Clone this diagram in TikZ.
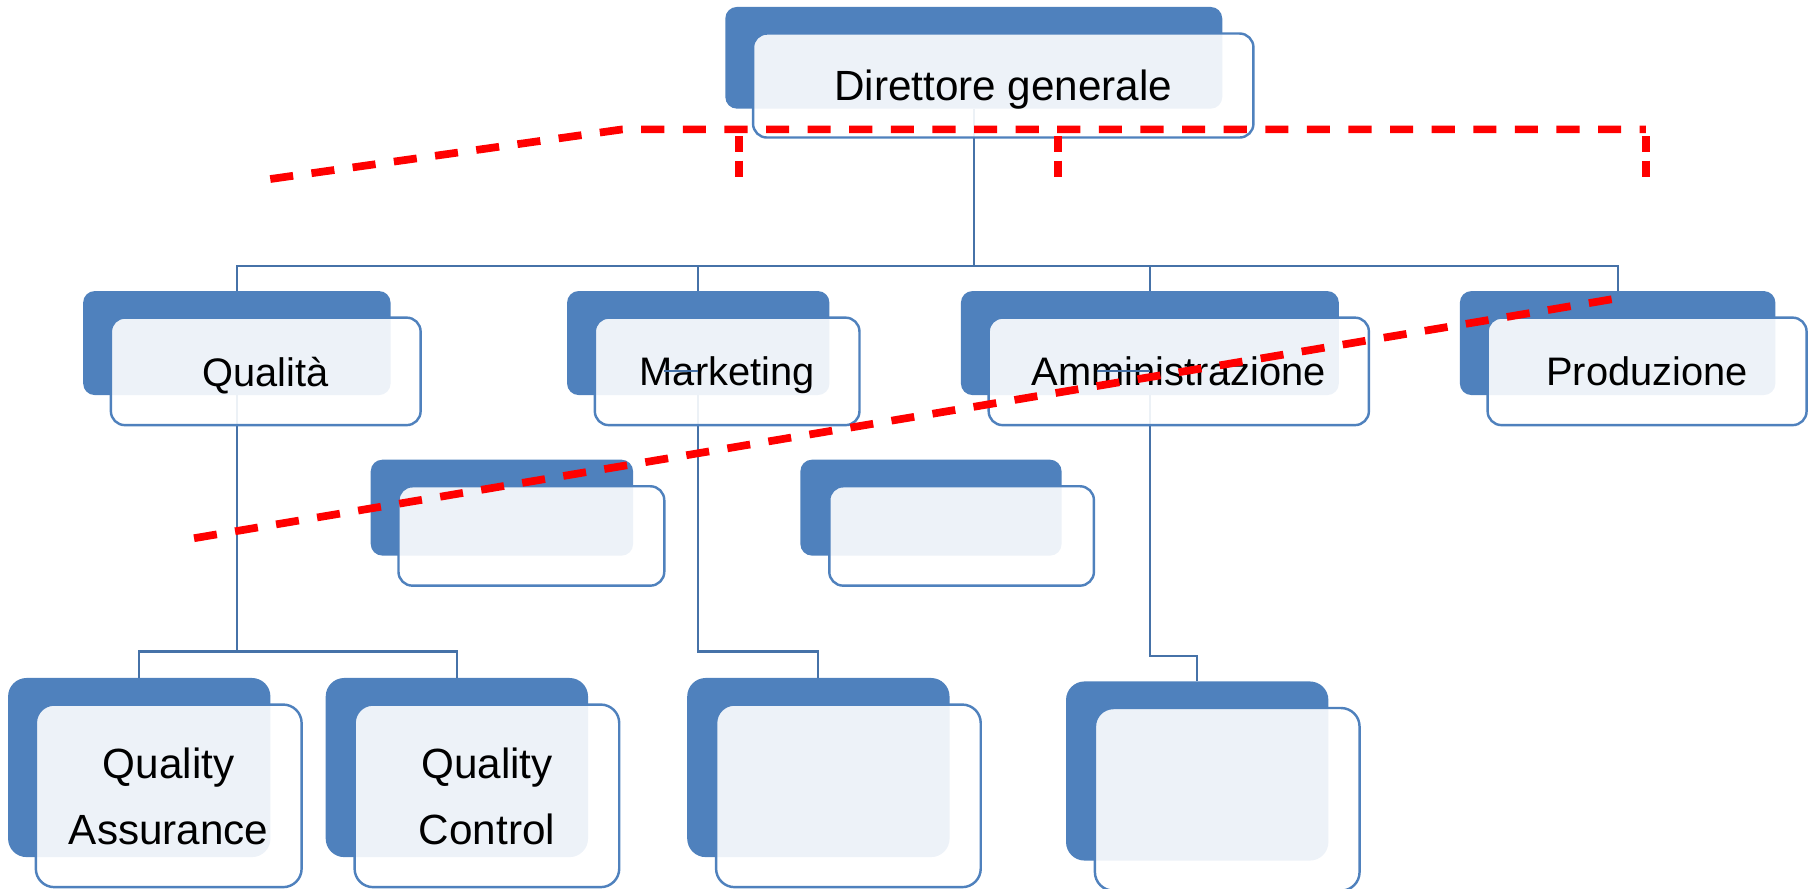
\documentclass[tikz,border=0pt]{standalone}
\usepackage{fontspec}
\setmainfont{Liberation Sans}
\usetikzlibrary{positioning}
\definecolor{orgblue}{HTML}{4F81BD}
\definecolor{linkblue}{HTML}{4672A8}
\tikzset{
  backbox/.style={fill=orgblue, rounded corners=0.1cm, inner sep=0pt, outer sep=0pt, anchor=north west},
  frontbox/.style={draw=orgblue, line width=0.6pt, fill=white, fill opacity=0.9, text opacity=1,
    rounded corners=0.12cm, inner sep=0pt, outer sep=0pt, align=center, text depth=0pt,
    font=\fontsize{10.4pt}{16.3pt}\selectfont},
  midlevel/.style={font=\fontsize{9.8pt}{12pt}\selectfont},
  tall/.style={rounded corners=0.16cm},
  link/.style={draw=linkblue, line width=0.55pt},
  redcut/.style={draw=red, line width=1.9pt, dash pattern=on 0.2cm off 0.16cm},
  reddrop/.style={draw=red, line width=1.9pt, dash pattern=on 0.14cm off 0.07cm},
}
\begin{document}
\begin{tikzpicture}[x=0.01cm, y=-0.01cm]
	\useasboundingbox (0,0) rectangle (1568,769);
	% back boxes
	\node[backbox, minimum width=4.30cm, minimum height=0.88cm] (dg-b) at (628,6) {};
	\node[backbox, minimum width=2.66cm, minimum height=0.90cm] (qual-b) at (72,252) {};
	\node[backbox, minimum width=2.27cm, minimum height=0.90cm] (mkt-b) at (491,252) {};
	\node[backbox, minimum width=3.27cm, minimum height=0.90cm] (amm-b) at (832,252) {};
	\node[backbox, minimum width=2.73cm, minimum height=0.90cm] (prod-b) at (1264,252) {};
	\node[backbox, minimum width=2.27cm, minimum height=0.83cm] (asa-b) at (321,398) {};
	\node[backbox, minimum width=2.26cm, minimum height=0.83cm] (asb-b) at (693,398) {};
	\node[backbox, tall, minimum width=2.27cm, minimum height=1.55cm] (qa-b) at (7,587) {};
	\node[backbox, tall, minimum width=2.27cm, minimum height=1.55cm] (qc-b) at (282,587) {};
	\node[backbox, tall, minimum width=2.27cm, minimum height=1.55cm] (mkt1-b) at (595,587) {};
	\node[backbox, tall, minimum width=2.27cm, minimum height=1.55cm] (amm1-b) at (923,590) {};
	% connectors
	\draw[link] (dg-b.south) -- ++(0,136) coordinate (bus);
	\draw[link] (bus) -| (qual-b.north);
	\draw[link] (bus) -| (mkt-b.north);
	\draw[link] (bus) -| (amm-b.north);
	\draw[link] (bus) -| (prod-b.north);
	\draw[link] (qual-b.south) -- ++(0,222) coordinate (qbus) -| (qa-b.north);
	\draw[link] (qbus) -| (qc-b.north);
	\draw[link] (mkt-b.south) -- ++(0,222) -| (mkt1-b.north);
	\draw[link] (amm-b.south) -- ++(0,226) -| (amm1-b.north);
	% front boxes
	\node[frontbox, minimum width=4.33cm, minimum height=0.90cm, below right=0.23cm and 0.24cm of dg-b.north west] (dg) {Direttore generale};
	\node[frontbox, midlevel, minimum width=2.68cm, minimum height=0.93cm, below right=0.23cm and 0.24cm of qual-b.north west] (qual) {Qualità};
	\node[frontbox, midlevel, minimum width=2.29cm, minimum height=0.93cm, below right=0.23cm and 0.24cm of mkt-b.north west] (mkt) {Marketing};
	\node[frontbox, midlevel, minimum width=3.29cm, minimum height=0.93cm, below right=0.23cm and 0.24cm of amm-b.north west] (amm) {Amministrazione};
	\node[frontbox, midlevel, minimum width=2.76cm, minimum height=0.93cm, below right=0.23cm and 0.24cm of prod-b.north west] (prod) {Produzione};
	\node[frontbox, minimum width=2.30cm, minimum height=0.86cm, below right=0.23cm and 0.24cm of asa-b.north west] (asa) {};
	\node[frontbox, minimum width=2.29cm, minimum height=0.86cm, below right=0.23cm and 0.25cm of asb-b.north west] (asb) {};
	\node[frontbox, tall, minimum width=2.30cm, minimum height=1.58cm, below right=0.23cm and 0.24cm of qa-b.north west] (qa) {Quality\\Assurance};
	\node[frontbox, tall, minimum width=2.29cm, minimum height=1.58cm, below right=0.23cm and 0.25cm of qc-b.north west] (qc) {Quality\\Control};
	\node[frontbox, tall, minimum width=2.29cm, minimum height=1.58cm, below right=0.23cm and 0.25cm of mkt1-b.north west] (mkt1) {};
	\node[frontbox, tall, minimum width=2.29cm, minimum height=1.58cm, below right=0.23cm and 0.25cm of amm1-b.north west] (amm1) {};
	% assistant stubs
	\draw[link] (mkt-b.south |- mkt.center) -- ++(-30,0) coordinate (mkt-stub);
	\draw[link] (amm-b.south |- amm.center) -- ++(-46,0) coordinate (amm-stub);
	% red dashed marks
	\draw[redcut] (234,155) -- (539,112) -- (1425,112);
	\draw[reddrop] (640,118) -- (640,155);
	\draw[reddrop] (916,118) -- (916,155);
	\draw[reddrop] (1425,118) -- (1425,155);
	\draw[redcut] (168,466) -- (1408,257);
\end{tikzpicture}
\end{document}
